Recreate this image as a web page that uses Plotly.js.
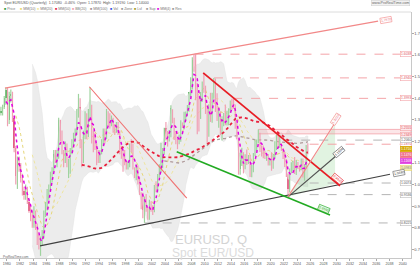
<!DOCTYPE html>
<html><head><meta charset="utf-8">
<script src="https://cdn.plot.ly/plotly-3.0.1.min.js"></script>
<style>html,body{margin:0;padding:0;background:#fff;overflow:hidden}#chart{width:420px;height:265px}</style>
</head><body><div id="chart"></div>
<script>
// ---------- DATA (quarterly Spot EUR/USD, 1979 Q1 .. 2025 Q3) ----------
const firstYear = 1979;
const firstOpen = 1.33;
const highs = [
 1.36,1.37,1.41,1.45, 1.45,1.43,1.44,1.43, 1.32,1.18,1.13,1.13, 1.10,1.05,0.99,1.00,
 0.99,0.93,0.90,0.88, 0.90,0.88,0.82,0.77, 0.76,0.79,0.88,0.92, 0.98,1.00,1.06,1.08,
 1.16,1.16,1.16,1.31, 1.30,1.25,1.16,1.20, 1.19,1.12,1.17,1.21, 1.24,1.26,1.35,1.42,
 1.40,1.21,1.25,1.34, 1.33,1.35,1.45,1.37, 1.25,1.24,1.19,1.16, 1.16,1.21,1.26,1.26,
 1.35,1.34,1.33,1.32, 1.31,1.28,1.29,1.29, 1.25,1.18,1.16,1.16, 1.11,1.11,1.19,1.21,
 1.19,1.08,1.09,1.09, 1.035,0.965,0.962,0.945, 0.957,0.893,0.930,0.923, 0.904,0.998,1.015,1.049,
 1.094,1.193,1.169,1.263, 1.290,1.248,1.253,1.367, 1.349,1.310,1.248,1.213, 1.232,1.298,1.288,1.337,
 1.339,1.368,1.427,1.497, 1.590,1.602,1.604,1.470, 1.414,1.429,1.477,1.514, 1.458,1.369,1.372,1.425,
 1.425,1.494,1.491,1.423, 1.349,1.339,1.317,1.331, 1.371,1.342,1.354,1.389, 1.397,1.399,1.371,1.285,
 1.212,1.147,1.171,1.150, 1.141,1.162,1.137,1.137, 1.091,1.146,1.209,1.209, 1.255,1.240,1.181,1.181,
 1.157,1.141,1.142,1.120, 1.150,1.142,1.201,1.230, 1.235,1.227,1.192,1.170, 1.150,1.118,1.051,1.074,
 1.103,1.110,1.128,1.114, 1.105,1.090,1.121,1.121, 1.095,1.183,1.192
];
const lows = [
 1.32,1.32,1.35,1.37, 1.27,1.28,1.38,1.29, 1.15,1.00,0.98,1.06, 1.01,0.95,0.93,0.93,
 0.91,0.87,0.83,0.80, 0.80,0.79,0.72,0.70, 0.67,0.72,0.75,0.85, 0.88,0.93,0.97,1.01,
 1.06,1.10,1.08,1.12, 1.20,1.14,1.08,1.10, 1.08,1.03,1.05,1.14, 1.18,1.20,1.23,1.31,
 1.17,1.08,1.10,1.21, 1.21,1.22,1.30,1.19, 1.15,1.16,1.09,1.10, 1.10,1.14,1.18,1.19,
 1.21,1.27,1.26,1.27, 1.24,1.23,1.24,1.23, 1.14,1.12,1.06,1.09, 1.07,1.07,1.08,1.15,
 1.07,1.03,1.02,1.00, 0.952,0.886,0.844,0.823, 0.874,0.837,0.837,0.874, 0.859,0.872,0.965,0.965,
 1.033,1.056,1.076,1.139, 1.205,1.176,1.200,1.219, 1.284,1.206,1.187,1.164, 1.187,1.198,1.262,1.256,
 1.293,1.318,1.337,1.404, 1.440,1.523,1.390,1.233, 1.246,1.304,1.384,1.425, 1.327,1.188,1.221,1.290,
 1.286,1.398,1.336,1.295, 1.263,1.229,1.204,1.270, 1.275,1.274,1.275,1.333, 1.347,1.351,1.259,1.210,
 1.046,1.046,1.086,1.052, 1.071,1.091,1.095,1.035, 1.034,1.057,1.131,1.155, 1.192,1.151,1.130,1.122,
 1.118,1.110,1.088,1.088, 1.064,1.073,1.119,1.160, 1.170,1.170,1.156,1.119, 1.081,1.035,0.954,0.963,
 1.052,1.063,1.049,1.045, 1.072,1.060,1.067,1.033, 1.018,1.074,1.140
];
const closes = [
 1.34,1.36,1.40,1.44, 1.30,1.41,1.42,1.31, 1.17,1.04,1.10,1.09, 1.03,0.97,0.95,0.97,
 0.92,0.88,0.85,0.81, 0.86,0.80,0.74,0.71, 0.73,0.77,0.86,0.89, 0.96,0.98,1.05,1.07,
 1.14,1.11,1.13,1.30, 1.23,1.15,1.11,1.18, 1.10,1.10,1.16,1.20, 1.23,1.24,1.32,1.36,
 1.20,1.15,1.24,1.33, 1.23,1.34,1.36,1.21, 1.20,1.17,1.13,1.11, 1.15,1.20,1.24,1.22,
 1.32,1.31,1.29,1.30, 1.26,1.25,1.26,1.24, 1.15,1.13,1.11,1.10, 1.08,1.10,1.18,1.17,
 1.077,1.035,1.068,1.007, 0.957,0.953,0.883,0.939, 0.880,0.847,0.912,0.890, 0.872,0.998,0.986,1.049,
 1.090,1.148,1.166,1.260, 1.232,1.219,1.242,1.356, 1.296,1.210,1.202,1.184, 1.213,1.279,1.268,1.320,
 1.336,1.354,1.427,1.459, 1.579,1.575,1.409,1.397, 1.328,1.403,1.464,1.432, 1.351,1.224,1.364,1.338,
 1.417,1.450,1.339,1.296, 1.334,1.266,1.286,1.319, 1.282,1.301,1.353,1.379, 1.377,1.369,1.263,1.210,
 1.073,1.115,1.118,1.086, 1.138,1.110,1.124,1.052, 1.065,1.143,1.181,1.200, 1.232,1.168,1.160,1.147,
 1.122,1.137,1.090,1.121, 1.103,1.123,1.172,1.222, 1.173,1.186,1.158,1.137, 1.107,1.048,0.980,1.070,
 1.084,1.091,1.057,1.104, 1.079,1.071,1.114,1.035, 1.082,1.179,1.171
];

// Trend lines drawn on the chart: [start date, end date], [start price, end price]
const upperChannelDates = [1979.74, 2036.27], upperChannelPrices = [1.447, 1.757];
const lowerChannelDates = [1985.05, 2038.08], lowerChannelPrices = [0.716, 1.048];
const downtrend2008Dates = [2009.77, 2030.50], downtrend2008Prices = [1.517, 0.994];
const downtrend1992Dates = [1992.52, 2007.28], downtrend1992Prices = [1.453, 0.937];
const greenSupportDates = [2005.76, 2028.99], greenSupportPrices = [1.152, 0.859];
const grayFromLowDates = [2022.62, 2030.95], grayFromLowPrices = [0.943, 1.160];
const pinkFromLowDates = [2022.62, 2030.50], pinkFromLowPrices = [0.943, 1.322];
const projectionDates = [2022.62, 2029.75, 2029.75], projectionPrices = [0.943, 1.276, 1.004];
// Horizontal levels
const resistanceLevels = [1.6038, 1.4940, 1.3993, 1.1870];
const resistanceStarts = [2008.45, 2011.40, 2014.30, 2025.90];
const supportLevels = [1.2060, 1.0074, 0.9536, 0.8225];
const supportStarts = [2021.90, 2025.90, 2025.90, 2000.90];
const zoneTop = 1.2555, zoneBottom = 1.2349, zoneStart = 2018.10;
const yearTicks = [1980,1982,1984,1986,1988,1990,1992,1994,1996,1998,2000,2002,2004,2006,2008,2010,2012,2014,2016,2018,2020,2022,2024,2026,2028,2030,2032,2034,2036,2038,2040];
const priceTicks = [0.7,0.8,0.9,1.0,1.1,1.2,1.3,1.4,1.5,1.6,1.7,1.8];
const legendItems = [["#2f9a3a","Price"],["#e8d870","MM(10)"],["#f0e8a0","MM(20)"],["#e02040","MM(50)"],["#f0a0b0","BB(20)"],["#a09090","MM(100)"],["#3050e0","Vol"],["#999999","Zone"],["#a09a20","Lvl"],["#999999","Sup"],["#e000e0","MM(4)"],["#999999","Res"]];

// ---------- helpers ----------
const X0 = 1980 - 6.7/6.6, X1 = 1980 + 404.3/6.6;
const Y0 = 1.60 - 203/216, Y1 = 1.60 + 43/216;
const n = closes.length;
const xs = closes.map((_, i) => firstYear + i*0.25 + 0.125);
const opens = closes.map((c, i) => i === 0 ? firstOpen : closes[i-1]);
function sma(p){ return closes.map((_, i) => { if (i < p-1) return null; let s=0; for (let k=i-p+1;k<=i;k++) s+=closes[k]; return s/p; }); }
function band(p, m, sign){ return closes.map((_, i) => { if (i < p-1) return null; let s=0; for (let k=i-p+1;k<=i;k++) s+=closes[k]; const mu=s/p; let v=0; for (let k=i-p+1;k<=i;k++) v+=(closes[k]-mu)**2; return mu + sign*m*Math.sqrt(v/p); }); }
const ma4 = sma(4), ma10 = sma(10), ma20 = sma(20), ma50 = sma(50), ma100 = sma(100);
const bbU = band(20,2,1), bbL = band(20,2,-1);

const traces = [];
// Bollinger fill
const bx = [], by = [];
for (let i=0;i<n;i++) if (bbU[i]!==null){ bx.push(xs[i]); by.push(bbU[i]); }
for (let i=n-1;i>=0;i--) if (bbL[i]!==null){ bx.push(xs[i]); by.push(bbL[i]); }
traces.push({x:bx, y:by, type:'scatter', mode:'lines', fill:'toself', fillcolor:'#ececec', line:{color:'#e4e4e4', width:0.6}, hoverinfo:'skip'});

// projection fill + zone
traces.push({x:projectionDates, y:projectionPrices, type:'scatter', mode:'lines', fill:'toself', fillcolor:'rgba(120,200,120,0.22)', line:{width:0}, hoverinfo:'skip'});
traces.push({x:[zoneStart, X1, X1, zoneStart], y:[zoneTop, zoneTop, zoneBottom, zoneBottom], type:'scatter', mode:'lines', fill:'toself', fillcolor:'rgba(240,140,150,0.22)', line:{color:'#f2a0a8', width:0.8}, hoverinfo:'skip'});

// horizontal levels
resistanceLevels.forEach((v, k) => traces.push({x:[resistanceStarts[k], X1], y:[v, v], type:'scatter', mode:'lines', line:{color:'#f4a4a8', width:1, dash:'dash'}, hoverinfo:'skip'}));
supportLevels.forEach((v, k) => traces.push({x:[supportStarts[k], X1], y:[v, v], type:'scatter', mode:'lines', line:{color:'#b4b4b4', width:1, dash:'dash'}, hoverinfo:'skip'}));

// moving averages (under candles)
traces.push({x:xs, y:ma20, type:'scatter', mode:'lines', line:{color:'#efe6a0', width:1, dash:'dot'}, hoverinfo:'skip'});
traces.push({x:xs, y:ma10, type:'scatter', mode:'lines', line:{color:'#e6d77a', width:1, dash:'dot'}, hoverinfo:'skip'});
traces.push({x:xs, y:ma100, type:'scatter', mode:'lines', line:{color:'#b09a9a', width:1.3, dash:'dot'}, hoverinfo:'skip'});

// candles: wicks
const uwx=[], uwy=[], dwx=[], dwy=[];
for (let i=0;i<n;i++){
  const up = closes[i] >= opens[i];
  (up?uwx:dwx).push(xs[i], xs[i], null);
  (up?uwy:dwy).push(lows[i], highs[i], null);
}
traces.push({x:uwx, y:uwy, type:'scatter', mode:'lines', line:{color:'#9fd39f', width:1.2}, hoverinfo:'skip', connectgaps:false});
traces.push({x:dwx, y:dwy, type:'scatter', mode:'lines', line:{color:'#f0a0b4', width:1.2}, hoverinfo:'skip', connectgaps:false});
// bodies
traces.push({x:xs, base:opens, y:closes.map((c,i)=>{ const d=c-opens[i]; return Math.abs(d)<0.004 ? (d>=0?0.004:-0.004) : d; }), type:'bar', width:0.2,
  marker:{color:closes.map((c,i)=> c>=opens[i] ? '#2f9a3a' : '#d4245a'), line:{width:0}}, hoverinfo:'skip'});

// MA on top
traces.push({x:xs, y:ma50, type:'scatter', mode:'lines', line:{color:'#e8203c', width:1.8, dash:'dot'}, hoverinfo:'skip'});
traces.push({x:xs, y:ma4, type:'scatter', mode:'lines', line:{color:'#e000e0', width:1.5, dash:'dot'}, hoverinfo:'skip'});

// trend lines
function tl(d, p, color, w){ traces.push({x:d, y:p, type:'scatter', mode:'lines', line:{color:color, width:w}, hoverinfo:'skip'}); }
tl(upperChannelDates, upperChannelPrices, '#f28888', 1.2);
tl(lowerChannelDates, lowerChannelPrices, '#404040', 1.2);
tl(downtrend1992Dates, downtrend1992Prices, '#f07070', 1.1);
tl(downtrend2008Dates, downtrend2008Prices, '#e81c24', 1.8);
tl(greenSupportDates, greenSupportPrices, '#22aa22', 1.6);
tl(grayFromLowDates, grayFromLowPrices, '#505050', 1.1);
tl(pinkFromLowDates, pinkFromLowPrices, '#f08888', 1.1);

// ---------- annotations ----------
const F = 'Liberation Sans, Arial, sans-serif';
const ann = [];
function box(x, y, text, color, bg, border, angle){
  ann.push({x:x, y:y, xref:'x', yref:'y', text:text, showarrow:false, font:{family:F, size:3.4, color:color},
    bgcolor:bg, bordercolor:border, borderwidth:0.6, borderpad:0.4, textangle:angle||0});
}
const xLab = X1 - 0.75;
resistanceLevels.forEach(v => box(xLab, v, v.toFixed(4), '#e05060', '#fff', '#f4a4a8'));
box(xLab, zoneTop+0.006, zoneTop.toFixed(4), '#e05060', '#fde8ea', '#f4a4a8');
box(xLab, zoneBottom-0.006, zoneBottom.toFixed(4), '#e05060', '#fde8ea', '#f4a4a8');
supportLevels.forEach(v => box(xLab, v, v.toFixed(4), '#555', '#fff', '#bbb'));
box(xLab, closes[n-1]-0.004, closes[n-1].toFixed(4), '#fff', '#d4a800', '#d4a800');
box(xLab, ma50[n-1]-0.012, ma50[n-1].toFixed(4), '#fff', '#f07088', '#f07088');
box(xLab, ma4[n-1]-0.006, ma4[n-1].toFixed(4), '#fff', '#e040e0', '#e040e0');
box(xLab, ma10[n-1]-0.02, ma10[n-1].toFixed(4), '#888', '#f4eeb0', '#e6d77a');
// trend-line labels
box(upperChannelDates[1]+1.2, upperChannelPrices[1]+0.003, upperChannelPrices[1].toFixed(4), '#e86070', '#fff', '#f28888', -10);
box(lowerChannelDates[1]+1.4, lowerChannelPrices[1]+0.004, lowerChannelPrices[1].toFixed(4), '#333', '#fff', '#606060', -11);
box(downtrend2008Dates[1]-0.4, downtrend2008Prices[1]+0.03, downtrend2008Prices[1].toFixed(4), '#e81c24', '#fff', '#e81c24', 40);
box(greenSupportDates[1]-0.9, greenSupportPrices[1]+0.03, greenSupportPrices[1].toFixed(4), '#22aa22', '#e8f8e8', '#22aa22', 22);
box(grayFromLowDates[1]-0.6, grayFromLowPrices[1]-0.01, grayFromLowPrices[1].toFixed(4), '#333', '#fff', '#505050', -40);
box(pinkFromLowDates[1]-0.6, pinkFromLowPrices[1]-0.02, pinkFromLowPrices[1].toFixed(4), '#e86070', '#fff', '#f08888', -57);

// header / watermark (paper coords; plot spans y px 12..258)
const py = px => (258 - px)/246;
ann.push({xref:'paper', yref:'paper', x:0.005, y:py(3.5), xanchor:'left', yanchor:'middle', showarrow:false,
  text:'Spot EUR/USD (Quarterly)  1.17080  -0.46%  Open: 1.17870  High: 1.19190  Low: 1.14000', font:{family:F, size:3.6, color:'#555'}});
let lx = 0.005;
legendItems.forEach(([c, t]) => {
  ann.push({xref:'paper', yref:'paper', x:lx, y:py(8.5), xanchor:'left', yanchor:'middle', showarrow:false,
    text:'<span style="color:'+c+'">■</span> '+t, font:{family:F, size:3.6, color:'#777'}});
  lx += (5 + t.length*2.1)/411;
});
ann.push({xref:'paper', yref:'paper', x:0.998, y:py(3), xanchor:'right', yanchor:'middle', showarrow:false,
  text:'www.ProRealTime.com', font:{family:F, size:3.6, color:'#666'}, bgcolor:'#f2f2f2', bordercolor:'#ccc', borderwidth:0.5, borderpad:0.5});
ann.push({xref:'paper', yref:'paper', x:173/411, y:py(239), xanchor:'left', yanchor:'middle', showarrow:false,
  text:'EURUSD, Q', font:{family:F, size:13, color:'#d4d4d4'}});
ann.push({xref:'paper', yref:'paper', x:170/411, y:py(253), xanchor:'left', yanchor:'middle', showarrow:false,
  text:'Spot EUR/USD', font:{family:F, size:12, color:'#dcdcdc'}});
ann.push({xref:'paper', yref:'paper', x:0.002, y:py(256.5), xanchor:'left', yanchor:'middle', showarrow:false,
  text:'ProRealTime.com', font:{family:F, size:3.2, color:'#666'}});

const layout = {
  width:420, height:265, margin:{l:0, r:9, t:12, b:7, pad:0},
  paper_bgcolor:'#fff', plot_bgcolor:'#fff', showlegend:false, bargap:0,
  font:{family:F},
  xaxis:{range:[X0, X1], tickvals:yearTicks, ticktext:yearTicks.map(String), showgrid:false, zeroline:false,
    showline:true, linecolor:'#c8c8c8', linewidth:1, ticks:'outside', ticklen:1.5, tickcolor:'#aaa',
    tickfont:{family:F, size:3.6, color:'#555'}, fixedrange:true},
  yaxis:{range:[Y0, Y1], side:'right', tickvals:priceTicks, ticktext:priceTicks.map(v=>v.toFixed(1)), showgrid:false, zeroline:false,
    showline:true, linecolor:'#c8c8c8', linewidth:1, ticks:'outside', ticklen:1.5, tickcolor:'#aaa',
    tickfont:{family:F, size:4, color:'#555'}, fixedrange:true},
  annotations:ann,
  shapes:[{type:'line', xref:'paper', yref:'paper', x0:0, x1:1, y0:py(12), y1:py(12), line:{color:'#dcdcdc', width:1}}]
};
Plotly.newPlot('chart', traces, layout, {staticPlot:true, displayModeBar:false});
</script></body></html>
